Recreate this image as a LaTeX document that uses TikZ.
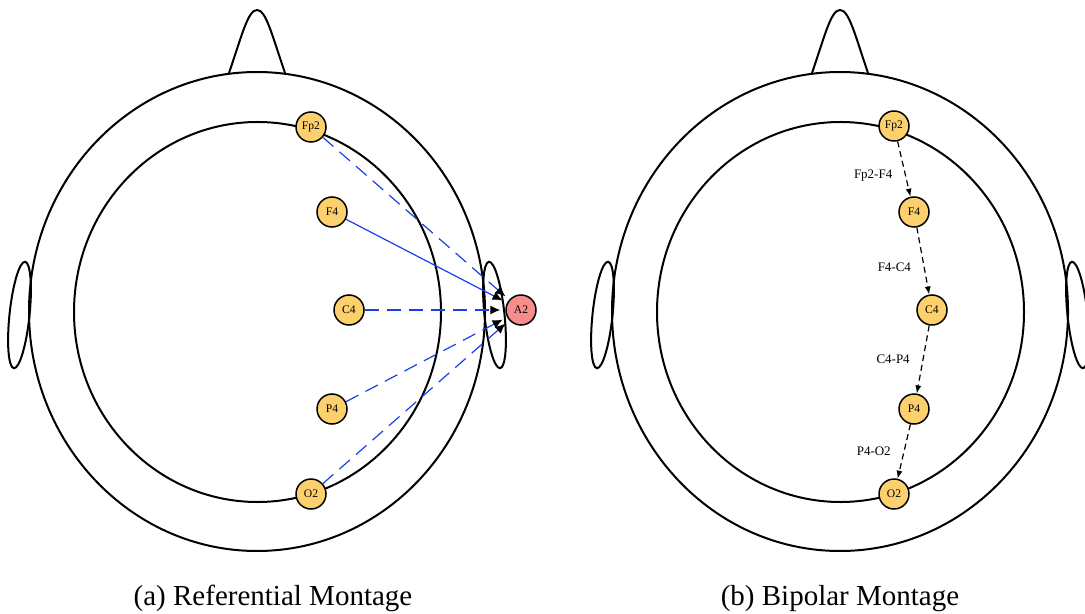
\documentclass[tikz,border=0pt]{standalone}
\usepackage{fontspec}
\setmainfont{Liberation Serif}
\usetikzlibrary{arrows.meta}

\definecolor{padfill}{RGB}{253,208,110}
\definecolor{earfill}{RGB}{246,140,140}
\definecolor{leadblue}{RGB}{25,65,230}

\begin{document}
\begin{tikzpicture}[x=0.5pt,y=-0.5pt]
      \useasboundingbox (0,0) rectangle (1085,614);

      % head outline, drawn once per montage
      \foreach \dx in {0,583} {
        \begin{scope}[shift={(\dx,0)}, line width=1pt]
          \draw (257,311.5) ellipse [x radius=228, y radius=239.5];
          \draw (257.5,312) ellipse [x radius=183.5, y radius=190];
          \draw (229,73) .. controls (242,35) and (248,10) .. (257,10)
                         .. controls (266,10) and (272,35) .. (285,73);
          \draw[rotate around={-6:(19.5,315)}] (19.5,315) ellipse [x radius=10, y radius=53.5];
          \draw[rotate around={6:(494.5,315)}] (494.5,315) ellipse [x radius=10, y radius=53.5];
        \end{scope}
      }

      % electrodes
      \begin{scope}[every node/.style={circle,draw,line width=0.75pt,fill=padfill,
                    minimum size=15pt,inner sep=0pt,font=\fontsize{5.8}{6}\selectfont}]
        \node (a-Fp2) at (311,127) {Fp2};
        \node (a-F4) at (332,212) {F4};
        \node (a-C4) at (349,310) {C4};
        \node (a-P4) at (332,409) {P4};
        \node (a-O2) at (311,494) {O2};
        \node[fill=earfill] (a-A2) at (521,310) {A2};

        \node (b-Fp2) at (894,126) {Fp2};
        \node (b-F4) at (914,212) {F4};
        \node (b-C4) at (932,310) {C4};
        \node (b-P4) at (914,409) {P4};
        \node (b-O2) at (894,494) {O2};
      \end{scope}

      % referential leads to A2
      \begin{scope}[every edge/.style={draw=leadblue,line width=0.6pt,shorten >=2.5pt,
                    -{Latex[color=black,length=5pt,width=4.5pt]},dash pattern=on 7pt off 4pt}]
        \path (a-Fp2) edge (a-A2);
        \path (a-F4) edge[solid] (a-A2);
        \path (a-C4) edge (a-A2);
        \path (a-P4) edge (a-A2);
        \path (a-O2) edge (a-A2);
      \end{scope}

      % bipolar chain
      \begin{scope}[every edge/.style={draw=black,line width=0.6pt,dash pattern=on 3pt off 2pt,
                    -{Latex[length=4pt,width=3pt]}},
                    pairlabel/.style={left=3pt,font=\fontsize{6.5}{8}\selectfont}]
        \path (b-Fp2) edge node[pairlabel,pos=.62] (l-FpF) {Fp2-F4} (b-F4);
        \path (b-F4) edge node[pairlabel,pos=.6] (l-FC) {F4-C4} (b-C4);
        \path (b-C4) edge node[pairlabel] (l-CP) {C4-P4} (b-P4);
        \path (b-P4) edge node[pairlabel] (l-PO) {P4-O2} (b-O2);
      \end{scope}

      \node[anchor=base,font=\fontsize{14.5}{17}\selectfont] (cap-a) at (273,605) {(a) Referential Montage};
      \node[anchor=base,font=\fontsize{14.5}{17}\selectfont] (cap-b) at (840,605) {(b) Bipolar Montage};
    \end{tikzpicture}
\end{document}
